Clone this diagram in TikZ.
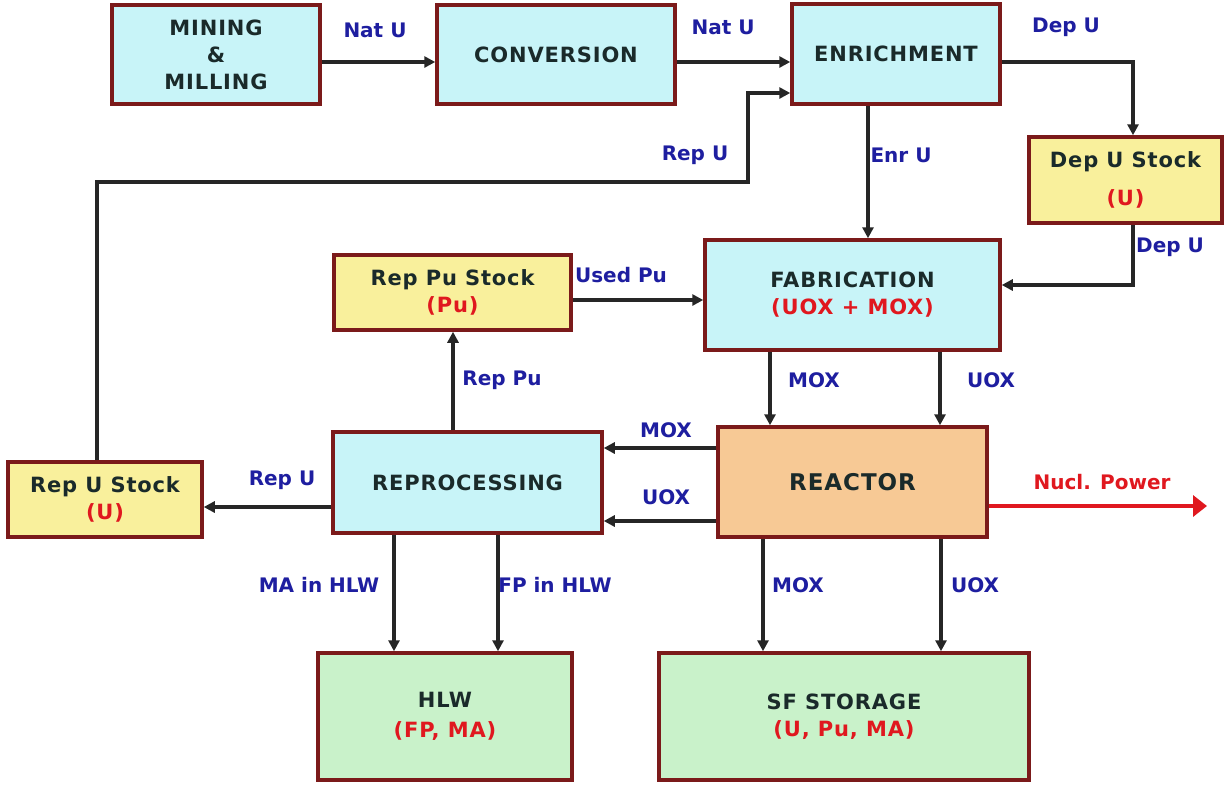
\documentclass[tikz,border=0pt]{standalone}
\usepackage{fontspec}
\setmainfont{DejaVu Sans}
\newfontfamily\boxfont{DejaVu Sans}[LetterSpace=4]
\usetikzlibrary{arrows.meta}
\definecolor{bord}{HTML}{7B1A1A}
\definecolor{cyanf}{HTML}{C8F4F8}
\definecolor{yelf}{HTML}{F9F09C}
\definecolor{oranf}{HTML}{F7C995}
\definecolor{greenf}{HTML}{C9F2CA}
\definecolor{lblue}{HTML}{1E1EA0}
\definecolor{redt}{HTML}{E0181F}
\definecolor{txt}{HTML}{1A2A2A}
\begin{document}
\begin{tikzpicture}[x=1pt,y=-1pt,
  box/.style={draw=bord, line width=3.5pt, inner sep=0pt, align=center, text=txt,
    font=\boxfont\bfseries\fontsize{21}{27}\selectfont},
  cyanbox/.style={box, fill=cyanf},
  yelbox/.style={box, fill=yelf},
  greenbox/.style={box, fill=greenf},
  lab/.style={text=lblue, font=\bfseries\fontsize{20}{24}\selectfont, inner sep=0pt},
  arr/.style={draw=black!85, line width=3.2pt, -{Triangle[length=11pt,width=11pt]}},
  redarr/.style={draw=redt, line width=3.4pt, -{Triangle[length=14pt,width=21pt]}},
  rt/.style={text=redt}
]
\useasboundingbox[fill=white] (0,0) rectangle (1225,785);

% boxes
\node[cyanbox, minimum width=208pt, minimum height=99pt] (mine) at (216,54.5) {MINING\\\&\\MILLING};
\node[cyanbox, minimum width=238pt, minimum height=99pt] (conv) at (556,54.5) {CONVERSION};
\node[cyanbox, minimum width=208pt, minimum height=100pt] (enr) at (896,54) {ENRICHMENT};
\node[yelbox, minimum width=193pt, minimum height=86pt] (dep) at (1125.5,180) {Dep U Stock\\[11pt]\textcolor{redt}{(U)}};
\node[cyanbox, minimum width=295pt, minimum height=110pt] (fab) at (852.5,295) {FABRICATION\\\textcolor{redt}{(UOX + MOX)}};
\node[yelbox, minimum width=237pt, minimum height=75pt] (reppu) at (452.5,292.5) {Rep Pu Stock\\\textcolor{redt}{(Pu)}};
\node[cyanbox, minimum width=269pt, minimum height=101pt] (repro) at (467.5,482.5) {REPROCESSING};
\node[box, fill=oranf, minimum width=269pt, minimum height=110pt, font=\boxfont\bfseries\fontsize{23}{27}\selectfont] (reac) at (852.5,482) {REACTOR};
\node[yelbox, minimum width=194pt, minimum height=75pt] (repu) at (105,499.5) {Rep U Stock\\\textcolor{redt}{(U)}};
\node[greenbox, minimum width=254pt, minimum height=127pt] (hlw) at (445,716.5) {HLW\\[3pt]\textcolor{redt}{(FP, MA)}};
\node[greenbox, minimum width=370pt, minimum height=127pt] (sf) at (844,716.5) {SF STORAGE\\\textcolor{redt}{(U, Pu, MA)}};

% connectors
\draw[arr] (mine.east |- 0,62) -- (conv.west |- 0,62);
\draw[arr] (conv.east |- 0,62) -- (enr.west |- 0,62);
\coordinate (ru1) at (748,182);
\draw[arr] (repu.north -| 97,0) |- (ru1) |- (enr.west |- 0,93);
\draw[arr] (enr.east |- 0,62) -| (dep.north -| 1133,0);
\draw[arr] (enr.south -| 868,0) -- (fab.north -| 868,0);
\draw[arr] (dep.south -| 1133,0) |- (fab.east |- 0,285);
\draw[arr] (reppu.east |- 0,300) -- (fab.west |- 0,300);
\draw[arr] (fab.south -| 770,0) -- (reac.north -| 770,0);
\draw[arr] (fab.south -| 940,0) -- (reac.north -| 940,0);
\draw[arr] (reac.west |- 0,448) -- (repro.east |- 0,448);
\draw[arr] (reac.west |- 0,521) -- (repro.east |- 0,521);
\draw[arr] (repro.north -| 453,0) -- (reppu.south -| 453,0);
\draw[arr] (repro.west |- 0,507) -- (repu.east |- 0,507);
\draw[arr] (repro.south -| 394,0) -- (hlw.north -| 394,0);
\draw[arr] (repro.south -| 498,0) -- (hlw.north -| 498,0);
\draw[arr] (reac.south -| 763,0) -- (sf.north -| 763,0);
\draw[arr] (reac.south -| 941,0) -- (sf.north -| 941,0);
\coordinate (pw) at (1207,506);
\draw[redarr] (reac.east |- 0,506) -- (pw);

% labels
\node[lab] (l1) at (375,30) {Nat U};
\node[lab] (l2) at (723,27) {Nat U};
\node[lab] (l3) at (1066,27) {Dep U};
\node[lab] (l4) at (695,155) {Rep U};
\node[lab] (l5) at (901,155) {Enr U};
\node[lab] (l6) at (1170,247) {Dep U};
\node[lab] (l7) at (621,275) {Used Pu};
\node[lab] (l8) at (502,380) {Rep Pu};
\node[lab] (l9) at (814,380) {MOX};
\node[lab] (l10) at (991,380) {UOX};
\node[lab] (l11) at (666,430) {MOX};
\node[lab] (l12) at (666,497) {UOX};
\node[lab] (l13) at (282,480) {Rep U};
\node[lab, text=redt] (l14) at (1102,482) {Nucl. Power};
\node[lab] (l15) at (319,585) {MA in HLW};
\node[lab] (l16) at (555,585) {FP in HLW};
\node[lab] (l17) at (798,585) {MOX};
\node[lab] (l18) at (975,585) {UOX};
\end{tikzpicture}
\end{document}
